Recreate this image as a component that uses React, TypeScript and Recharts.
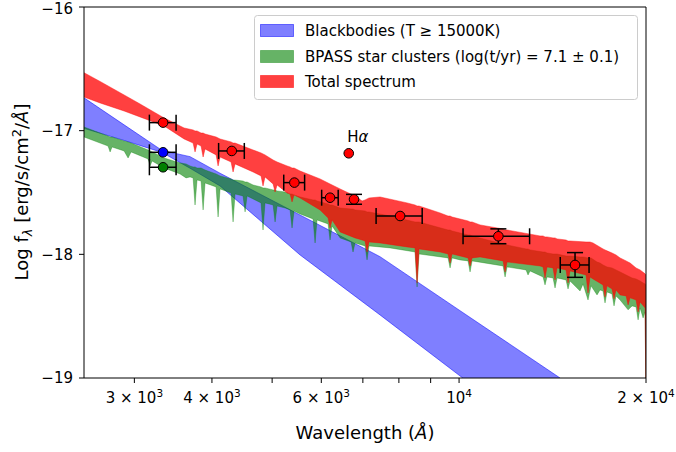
import React from "react";
import {
  ComposedChart,
  Area,
  Scatter,
  ErrorBar,
  XAxis,
  YAxis,
  ReferenceArea,
} from "recharts";

const FONT = "'DejaVu Sans', 'Liberation Sans', sans-serif";

// Blackbody envelope (T >= 15000K), log flux
const bbWave = [2489, 2888, 3325, 3688, 4122, 5546, 7460, 10149, 14544];
const bbHigh = [-16.734, -16.953, -17.16, -17.21, -17.344, -17.682, -18.019, -18.472, -19.0];
const bbLow = [-16.981, -17.079, -17.176, -17.304, -17.447, -18.005, -18.49, -19.002, -19.614];

// BPASS star clusters envelope (absorption lines kept as narrow dips)
const bpassWave = [
  2489, 2642, 2721, 2742, 2762, 2888, 2931, 2964, 3157, 3180, 3204, 3350, 3554, 3634, 3688,
  3730, 3757, 3785, 3842, 3871, 3899, 4062, 4092, 4122, 4294, 4326, 4358, 4489, 4523, 4556,
  4659, 4799, 4834, 4870, 5018, 5055, 5093, 5246, 5344, 5383, 5424, 5546, 5819, 5863, 5906,
  6153, 6198, 6245, 6433, 6700, 6749, 6800, 7057, 7109, 7162, 7743, 8494, 8558, 8621, 9600,
  9672, 9744, 10037, 10339, 10416, 10494, 11772, 11860, 11948, 12819, 12914, 13010, 13653,
  13754, 13857, 14169, 14274, 14381, 14868, 14979, 15090, 15660, 15835, 16131, 16312, 16679,
  16865, 17053, 17181, 17308, 17633, 17764, 17895, 18168, 18715, 18994, 19278, 19422, 19568,
  19785, 19932, 20000,
];
const bpassHigh = [
  -16.97, -17.019, -17.043, -17.051, -17.051, -17.083, -17.091, -17.1, -17.156, -17.164,
  -17.172, -17.221, -17.261, -17.269, -17.285, -17.293, -17.293, -17.302, -17.302, -17.31,
  -17.318, -17.35, -17.358, -17.366, -17.39, -17.399, -17.399, -17.407, -17.415, -17.415,
  -17.439, -17.455, -17.463, -17.463, -17.479, -17.479, -17.487, -17.496, -17.512, -17.512,
  -17.52, -17.536, -17.56, -17.56, -17.568, -17.593, -17.601, -17.601, -17.625, -17.633,
  -17.633, -17.641, -17.649, -17.657, -17.657, -17.69, -17.738, -17.738, -17.738, -17.803,
  -17.803, -17.811, -17.827, -17.843, -17.843, -17.851, -17.916, -17.916, -17.924, -17.956,
  -17.956, -17.964, -17.981, -17.981, -17.989, -17.997, -17.997, -17.997, -18.013, -18.013,
  -18.013, -18.021, -18.021, -18.029, -18.029, -18.062, -18.07, -18.086, -18.094, -18.102,
  -18.11, -18.118, -18.126, -18.142, -18.175, -18.191, -18.199, -18.207, -18.215, -18.231,
  -18.239, -18.247,
];
const bpassLow = [
  -17.051, -17.1, -17.124, -17.172, -17.132, -17.164, -17.221, -17.172, -17.229, -17.285,
  -17.245, -17.302, -17.35, -17.382, -17.374, -17.382, -17.601, -17.399, -17.407, -17.641,
  -17.423, -17.455, -17.698, -17.471, -17.504, -17.738, -17.512, -17.528, -17.657, -17.528,
  -17.552, -17.584, -17.803, -17.584, -17.601, -17.738, -17.609, -17.625, -17.641, -17.787,
  -17.649, -17.673, -17.714, -17.908, -17.722, -17.754, -17.884, -17.77, -17.867, -17.9,
  -17.981, -17.908, -17.932, -18.045, -17.932, -17.948, -17.981, -18.264, -17.997, -18.029,
  -18.11, -18.029, -18.045, -18.053, -18.142, -18.053, -18.094, -18.183, -18.102, -18.126,
  -18.167, -18.134, -18.183, -18.247, -18.183, -18.191, -18.272, -18.191, -18.207, -18.28,
  -18.215, -18.296, -18.239, -18.369, -18.255, -18.328, -18.288, -18.296, -18.393, -18.304,
  -18.32, -18.417, -18.336, -18.369, -18.449, -18.417, -18.425, -18.53, -18.433, -18.514,
  -18.466, -19.177,
];

// Total spectrum envelope
const totalWave = [
  2489, 2642, 2888, 3064, 3350, 3607, 3730, 3757, 3785, 3842, 3871, 3899, 4062, 4092, 4122,
  4294, 4326, 4358, 4659, 4799, 4834, 4870, 5018, 5055, 5093, 5285, 5344, 5383, 5424, 5546,
  5972, 6153, 6198, 6245, 6433, 6800, 6979, 7057, 7109, 7162, 7460, 8246, 8494, 8558, 8621,
  9320, 9600, 9672, 9744, 10339, 10416, 10494, 10810, 11772, 11860, 11948, 13502, 13653,
  13754, 13857, 14169, 14274, 14381, 14868, 14979, 15090, 16012, 16131, 16251, 16433, 17053,
  17181, 17308, 17633, 17764, 17895, 18168, 18577, 18715, 18854, 19278, 19422, 19568, 19932,
  20000,
];
const totalHigh = [
  -16.531, -16.602, -16.711, -16.784, -16.897, -16.978, -16.994, -17.002, -17.002, -17.019,
  -17.019, -17.027, -17.051, -17.059, -17.067, -17.091, -17.1, -17.1, -17.156, -17.18,
  -17.188, -17.196, -17.237, -17.245, -17.253, -17.285, -17.293, -17.302, -17.302, -17.326,
  -17.39, -17.423, -17.431, -17.439, -17.471, -17.528, -17.568, -17.56, -17.552, -17.544,
  -17.536, -17.584, -17.601, -17.609, -17.609, -17.665, -17.69, -17.69, -17.698, -17.73,
  -17.738, -17.738, -17.762, -17.795, -17.803, -17.803, -17.851, -17.851, -17.859, -17.859,
  -17.867, -17.867, -17.875, -17.884, -17.892, -17.892, -17.9, -17.9, -17.9, -17.908,
  -17.956, -17.964, -17.972, -17.989, -17.997, -18.005, -18.029, -18.053, -18.062, -18.07,
  -18.11, -18.118, -18.126, -18.158, -18.167,
];
const totalLow = [
  -16.728, -16.776, -16.841, -16.889, -16.962, -17.067, -17.1, -17.172, -17.108, -17.124,
  -17.213, -17.148, -17.196, -17.285, -17.213, -17.253, -17.334, -17.269, -17.334, -17.366,
  -17.447, -17.374, -17.431, -17.496, -17.439, -17.504, -17.512, -17.576, -17.52, -17.544,
  -17.641, -17.706, -17.787, -17.722, -17.819, -17.867, -17.884, -17.892, -17.981, -17.9,
  -17.908, -17.94, -17.948, -18.231, -17.956, -17.981, -17.997, -18.07, -17.997, -18.029,
  -18.094, -18.029, -18.021, -18.053, -18.142, -18.062, -18.094, -18.102, -18.191, -18.102,
  -18.11, -18.207, -18.11, -18.126, -18.231, -18.134, -18.167, -18.312, -18.183, -18.199,
  -18.247, -18.344, -18.255, -18.28, -18.36, -18.288, -18.328, -18.336, -18.409, -18.352,
  -18.369, -18.466, -18.385, -18.433, -19.177,
];

// Photometry (red), with errors
const photWave = [3337, 4305, 5430, 6198, 6774, 8037, 11569, 15373];
const photFlux = [-16.935, -17.164, -17.42, -17.542, -17.555, -17.69, -17.854, -18.086];
const photWaveErr = [165, 205, 210, 190, 0, 685, 1420, 820];
const photFluxErr = [0, 0, 0, 0, 0.04, 0, 0.06, 0.1];

const bbPoint = { wave: 3337, flux: -17.175, waveErr: 165 };
const bpassPoint = { wave: 3337, flux: -17.296, waveErr: 165 };
const halphaPoint = { wave: 6643, flux: -17.183 };

const xTickValues = [3000, 4000, 5000, 6000, 7000, 8000, 9000, 10000, 20000];
const xTickMantissa = ["3", "4", "", "6", "", "", "", "", "2"];
const xTickExponent = ["3", "3", "", "3", "", "", "", "4", "4"];
const yTickValues = [-19, -18, -17, -16];

const band = (wave: number[], low: number[], high: number[]) =>
  wave.map((w, i) => ({ wave: w, range: [low[i], high[i]] }));

const bbData = band(bbWave, bbLow, bbHigh);
const bpassData = band(bpassWave, bpassLow, bpassHigh);
const totalData = band(totalWave, totalLow, totalHigh);
const photData = photWave.map((w, i) => ({
  wave: w,
  flux: photFlux[i],
  waveErr: photWaveErr[i],
  fluxErr: photFluxErr[i],
}));

const dot = (fill: string) => (p: any) => (
  <circle cx={p.cx} cy={p.cy} r={4.8} fill={fill} stroke="#000" strokeWidth={1} />
);

function XTick({ x, y, payload }: any) {
  const i = xTickValues.indexOf(payload.value);
  const exp = xTickExponent[i];
  if (!exp) return <g />;
  const m = xTickMantissa[i];
  return (
    <text x={x} y={y + 18} textAnchor="middle" fontSize={15} fill="#000" fontFamily={FONT}>
      {m ? `${m} × 10` : "10"}
      <tspan dy={-6} fontSize={10.5}>{exp}</tspan>
    </text>
  );
}

export default function App() {
  return (
    <div style={{ position: "absolute", left: 0, top: 0, width: 676, height: 452, background: "#fff" }}>
      <ComposedChart width={676} height={452} margin={{ top: 7, right: 30, bottom: 0, left: 0 }}>
        <XAxis
          type="number"
          dataKey="wave"
          scale="log"
          domain={[2489, 20000]}
          allowDataOverflow
          ticks={xTickValues}
          interval={0}
          height={74}
          axisLine={false}
          tickSize={5}
          tickLine={{ stroke: "#000" }}
          tick={<XTick />}
        />
        <YAxis
          type="number"
          domain={[-19, -16]}
          allowDataOverflow
          ticks={yTickValues}
          width={84}
          axisLine={false}
          tickSize={5}
          tickMargin={6}
          tickLine={{ stroke: "#000" }}
          tick={{ fill: "#000", fontSize: 15, fontFamily: FONT }}
          tickFormatter={(v: number) => `−${Math.abs(v)}`}
        />
        <Area
          data={bbData}
          dataKey="range"
          type="linear"
          fill="#0000ff"
          fillOpacity={0.5}
          stroke="#0000ff"
          strokeOpacity={0.5}
          strokeWidth={1}
          dot={false}
          activeDot={false}
          isAnimationActive={false}
        />
        <Area
          data={bpassData}
          dataKey="range"
          type="linear"
          fill="#008000"
          fillOpacity={0.6}
          stroke="#008000"
          strokeOpacity={0.4}
          strokeWidth={0.8}
          dot={false}
          activeDot={false}
          isAnimationActive={false}
        />
        <Area
          data={totalData}
          dataKey="range"
          type="linear"
          fill="#ff0000"
          fillOpacity={0.75}
          stroke="#ff0000"
          strokeOpacity={0.5}
          strokeWidth={0.8}
          dot={false}
          activeDot={false}
          isAnimationActive={false}
        />
        <Scatter data={photData} dataKey="flux" shape={dot("#ff0000")} isAnimationActive={false}>
          <ErrorBar dataKey="waveErr" direction="x" width={8} stroke="#000" strokeWidth={1.5} isAnimationActive={false} />
          <ErrorBar dataKey="fluxErr" direction="y" width={8} stroke="#000" strokeWidth={1.5} isAnimationActive={false} />
        </Scatter>
        <Scatter data={[bbPoint]} dataKey="flux" shape={dot("#0000ff")} isAnimationActive={false}>
          <ErrorBar dataKey="waveErr" direction="x" width={8} stroke="#000" strokeWidth={1.5} isAnimationActive={false} />
        </Scatter>
        <Scatter data={[bpassPoint]} dataKey="flux" shape={dot("#008000")} isAnimationActive={false}>
          <ErrorBar dataKey="waveErr" direction="x" width={8} stroke="#000" strokeWidth={1.5} isAnimationActive={false} />
        </Scatter>
        <Scatter
          data={[halphaPoint]}
          dataKey="flux"
          isAnimationActive={false}
          shape={(p: any) => (
            <g>
              <circle cx={p.cx} cy={p.cy} r={4.8} fill="#ff0000" stroke="#000" strokeWidth={1} />
              <text x={p.cx + 9} y={p.cy - 11} textAnchor="middle" fontSize={15} fontFamily={FONT} fill="#000">
                H<tspan fontStyle="italic">α</tspan>
              </text>
            </g>
          )}
        />
        <ReferenceArea x1={2489} x2={20000} y1={-19} y2={-16} fill="none" stroke="#000" strokeWidth={1} ifOverflow="visible" />
      </ComposedChart>

      <svg width={676} height={452} style={{ position: "absolute", left: 0, top: 0, pointerEvents: "none" }} fontFamily={FONT}>
        {/* axis titles */}
        <text x={365} y={439} textAnchor="middle" fontSize={18} fill="#000">
          Wavelength (<tspan fontStyle="italic">Å</tspan>)
        </text>
        <text transform="translate(28,192) rotate(-90)" textAnchor="middle" fontSize={18} fill="#000">
          Log f<tspan dy={4} fontSize={13} fontStyle="italic">λ</tspan>
          <tspan dy={-4}> [erg/s/cm</tspan>
          <tspan dy={-7} fontSize={13}>2</tspan>
          <tspan dy={7}>/</tspan>
          <tspan fontStyle="italic">Å</tspan>]
        </text>

        {/* legend */}
        <rect x={254.5} y={15.5} width={383} height={84} rx={3} fill="#fff" fillOpacity={0.8} stroke="#cccccc" />
        <rect x={260.5} y={24.5} width={33} height={12} fill="#0000ff" fillOpacity={0.5} stroke="#0000ff" strokeOpacity={0.5} />
        <rect x={260.5} y={50.5} width={33} height={12} fill="#008000" fillOpacity={0.6} stroke="#008000" strokeOpacity={0.4} />
        <rect x={260.5} y={75.5} width={33} height={12} fill="#ff0000" fillOpacity={0.75} stroke="#ff0000" strokeOpacity={0.5} />
        <text x={305} y={36} fontSize={15} fill="#000">Blackbodies (T ≥ 15000K)</text>
        <text x={305} y={62} fontSize={15} fill="#000">BPASS star clusters (log(t/yr) = 7.1 ± 0.1)</text>
        <text x={305} y={87} fontSize={15} fill="#000">Total spectrum</text>
      </svg>
    </div>
  );
}
